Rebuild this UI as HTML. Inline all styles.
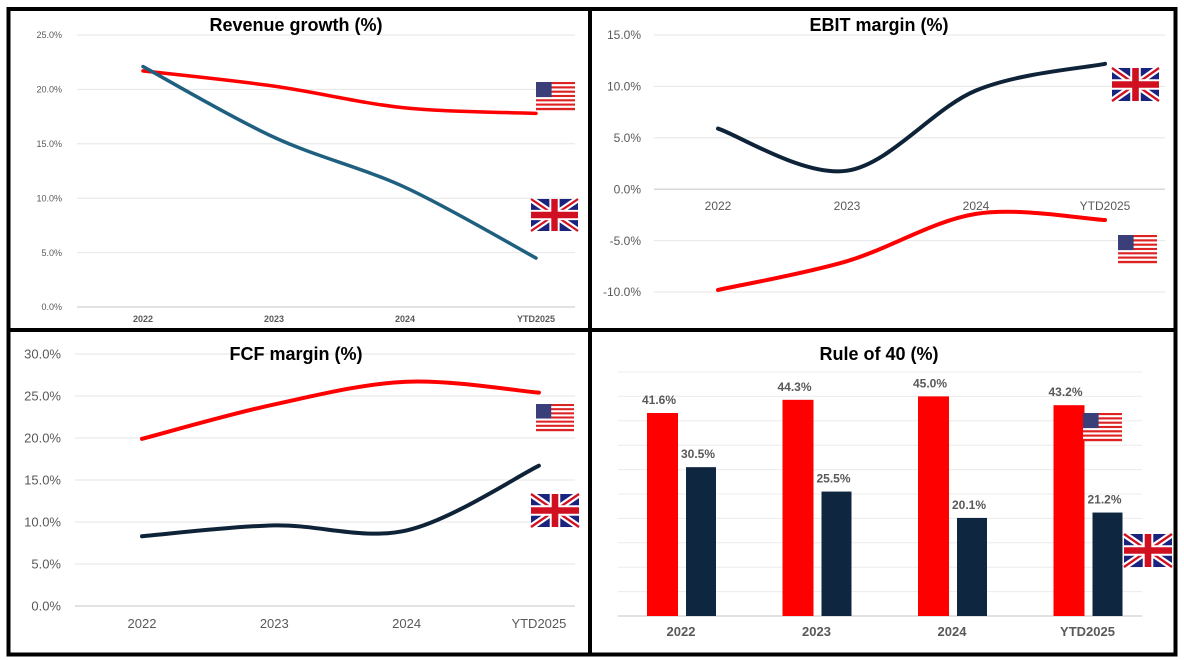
<!DOCTYPE html>
<html><head><meta charset="utf-8"><style>
html,body{margin:0;padding:0;background:#fff;}
svg{display:block;}
text{font-family:"Liberation Sans",sans-serif;}
.tick{fill:#595959;}
.title{font-weight:bold;font-size:18px;fill:#000;}
</style></head><body>
<svg id="root" width="1184" height="660" viewBox="0 0 1184 660">
<rect x="0" y="0" width="1184" height="660" fill="#fff"/>
<g id="panels"></g>
<g fill="none" stroke="#000">
<rect x="8.5" y="9" width="1167" height="645.5" stroke-width="4"/>
<line x1="590" y1="9" x2="590" y2="655" stroke-width="4"/>
<line x1="8" y1="330" x2="1176" y2="330" stroke-width="4"/>
</g>
</svg>
<script>
const categories=["2022","2023","2024","YTD2025"];
const revUS=[21.7,20.3,18.3,17.8];
const revUK=[22.1,15.6,11.0,4.5];
const ebitUK=[5.9,1.8,9.6,12.2];
const ebitUS=[-9.8,-7.0,-2.4,-3.0];
const fcfUS=[19.9,24.0,26.7,25.4];
const fcfUK=[8.3,9.6,9.0,16.7];
const r40US=[41.6,44.3,45.0,43.2];
const r40UK=[30.5,25.5,20.1,21.2];
const revTicks=[0,5,10,15,20,25];
const ebitTicks=[-10,-5,0,5,10,15];
const fcfTicks=[0,5,10,15,20,25,30];
const r40Grid=[0,5,10,15,20,25,30,35,40,45,50];

const NS="http://www.w3.org/2000/svg";
const G=document.getElementById('panels');
function mk(tag,attrs,parent){const e=document.createElementNS(NS,tag);for(const k in attrs)e.setAttribute(k,attrs[k]);(parent||G).appendChild(e);return e;}
function txt(s,attrs,parent){const e=mk('text',attrs,parent);e.textContent=s;return e;}
function smooth(pts){let d=`M${pts[0][0]},${pts[0][1]}`;for(let i=0;i<pts.length-1;i++){const p0=pts[Math.max(0,i-1)],p1=pts[i],p2=pts[i+1],p3=pts[Math.min(pts.length-1,i+2)];const t=1/6;d+=` C${p1[0]+(p2[0]-p0[0])*t},${p1[1]+(p2[1]-p0[1])*t} ${p2[0]-(p3[0]-p1[0])*t},${p2[1]-(p3[1]-p1[1])*t} ${p2[0]},${p2[1]}`;}return d;}
function usFlag(x,y,w,h,parent){const g=mk('g',{},parent);


const sh=h/13;for(let i=0;i<13;i++)mk('rect',{x:x,y:y+i*sh,width:w,height:sh+0.2,fill:i%2?'#fff':'#d22'},g);
mk('rect',{x:x,y:y,width:w*0.4,height:sh*7,fill:'#3a3f7a'},g);return g;}
function ukFlag(x,y,w,h,parent){const g=mk('g',{},parent);


mk('rect',{x:x,y:y,width:w,height:h,fill:'#1a237e'},g);
mk('path',{d:`M${x},${y}L${x+w},${y+h}M${x+w},${y}L${x},${y+h}`,stroke:'#fff','stroke-width':h*0.2},g);
mk('path',{d:`M${x},${y}L${x+w},${y+h}M${x+w},${y}L${x},${y+h}`,stroke:'#d01020','stroke-width':h*0.07},g);
mk('path',{d:`M${x+w/2},${y}V${y+h}M${x},${y+h/2}H${x+w}`,stroke:'#fff','stroke-width':h*0.32},g);
mk('path',{d:`M${x+w/2},${y}V${y+h}M${x},${y+h/2}H${x+w}`,stroke:'#d01020','stroke-width':h*0.2},g);return g;}

function lineChart(o){
 const g=mk('g',{});
 
 
 const ys=v=>o.y0+(v-o.vmin)*(o.y1-o.y0)/(o.vmax-o.vmin);
 const xs=i=>o.x0+i*o.dx;
 o.ticks.forEach(t=>{
  const l=mk('line',{x1:o.gx0,x2:o.gx1,y1:ys(t),y2:ys(t),stroke:'#e6e6e6','stroke-width':1},g);
  
  
  const tt=txt(t.toFixed(1)+'%',{x:o.lx,y:ys(t)+o.fs*0.35,'text-anchor':'end','font-size':o.fs,class:'tick'},g);
  
  
 });
 const base=mk('line',{x1:o.gx0,x2:o.gx1,y1:ys(o.axisAt),y2:ys(o.axisAt),stroke:'#d9d9d9','stroke-width':1.5},g);
 
 
 categories.forEach((c,i)=>{const t=txt(c,{x:xs(i),y:o.catY,'text-anchor':'middle','font-size':o.fs,class:'tick','font-weight':o.catBold?'bold':'normal'},g);
  
  });
 o.series.forEach(s=>{const p=mk('path',{d:smooth(s.data.map((v,i)=>[xs(i),ys(v)])),fill:'none',stroke:s.color,'stroke-width':s.w||3.5,'stroke-linecap':'round'},g);
  
  });
 const tt=txt(o.title,{x:o.tx,y:o.ty,'text-anchor':'middle',class:'title'},g);
 
 
 return g;
}
const g1=lineChart({name:'revenue-growth-chart',title:'Revenue growth (%)',tx:296,ty:31,vmin:0,vmax:25,y0:307,y1:35,x0:143,dx:131,gx0:77,gx1:575,lx:62,fs:9,ticks:revTicks,axisAt:0,catY:322,catBold:true,
 series:[{data:revUS,color:'#ff0000',name:'us-revenue-line'},{data:revUK,color:'#1f5f7f',name:'uk-revenue-line'}]});
usFlag(536,82,39,28,g1);ukFlag(531,199,47,32,g1);
const g2=lineChart({name:'ebit-margin-chart',title:'EBIT margin (%)',tx:879,ty:31,vmin:-10,vmax:15,y0:292,y1:35,x0:718,dx:129,gx0:654,gx1:1165,lx:641,fs:12,ticks:ebitTicks,axisAt:0,catY:210,
 series:[{data:ebitUK,color:'#0f2338',name:'uk-ebit-line',w:4},{data:ebitUS,color:'#ff0000',name:'us-ebit-line',w:4}]});
ukFlag(1112,68,47,33,g2);usFlag(1118,235,39,28,g2);
const g3=lineChart({name:'fcf-margin-chart',title:'FCF margin (%)',tx:296,ty:360,vmin:0,vmax:30,y0:606,y1:354,x0:142,dx:132.3,gx0:75,gx1:575,lx:61,fs:13,ticks:fcfTicks,axisAt:0,catY:628,
 series:[{data:fcfUS,color:'#ff0000',name:'us-fcf-line',w:4},{data:fcfUK,color:'#0f2338',name:'uk-fcf-line',w:4}]});
usFlag(536,404,38,27,g3);ukFlag(531,494,48,33,g3);

(function(){
 const g=mk('g',{});
 
 
 const base=616,pp=4.88;const ys=v=>base-v*pp;
 const cx=i=>681+i*135.5;
 r40Grid.forEach(t=>{const l=mk('line',{x1:618,x2:1142,y1:ys(t),y2:ys(t),stroke:t===0?'#d9d9d9':'#ececec','stroke-width':t===0?1.5:1},g);
  
  });
 categories.forEach((c,i)=>{
  const t=txt(c,{x:cx(i),y:636,'text-anchor':'middle','font-size':13,class:'tick','font-weight':'bold'},g);
  
  
  const b1=mk('rect',{x:cx(i)-34,y:ys(r40US[i]),width:31,height:r40US[i]*pp,fill:'#ff0000'},g);
  
  
  const b2=mk('rect',{x:cx(i)+5,y:ys(r40UK[i]),width:30,height:r40UK[i]*pp,fill:'#0f2640'},g);
  
  
  const l1=txt(r40US[i].toFixed(1)+'%',{x:cx(i)-22,y:ys(r40US[i])-9,'text-anchor':'middle','font-size':12,class:'tick','font-weight':'bold'},g);
  
  
  const l2=txt(r40UK[i].toFixed(1)+'%',{x:cx(i)+17,y:ys(r40UK[i])-9,'text-anchor':'middle','font-size':12,class:'tick','font-weight':'bold'},g);
  
  
 });
 const tt=txt('Rule of 40 (%)',{x:879,y:360,'text-anchor':'middle',class:'title'},g);
 
 
 usFlag(1083,413,39,28,g);ukFlag(1124,534,48,33,g);
})();
</script>
</body></html>
